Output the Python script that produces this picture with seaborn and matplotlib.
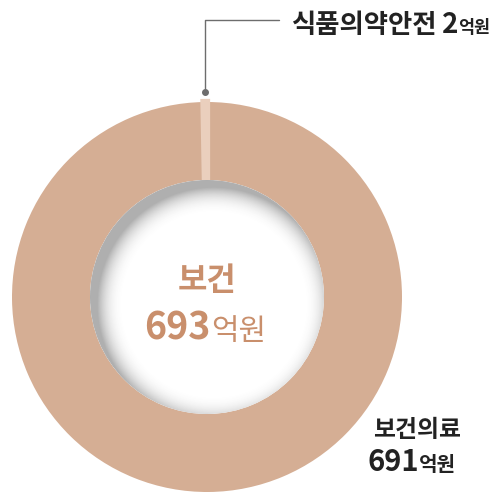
import numpy as np
import matplotlib
matplotlib.use("Agg")
import matplotlib.pyplot as plt
import seaborn as sns
from matplotlib.patches import Circle

# data
categories = ["식품의약안전", "보건의료"]
values = [2, 691]
total_label = "보건"
unit = "억원"

sns.set_theme(style="white")
plt.rcParams['font.family'] = ['Noto Sans CJK KR', 'DejaVu Sans']

W, H = 497, 494
main_color = "#d5ae94"
small_color = "#eacfbd"
center_color = "#c98f6c"
dark = "#222222"

fig = plt.figure(figsize=(W / 100, H / 100), dpi=100)
ax = fig.add_axes([0, 0, 1, 1])


def py(y):
    # image row -> data y
    return H - y


cx, cy = 207, py(297)
R_out, R_in = 195, 117

wedges, _ = ax.pie(values, colors=[small_color, main_color], startangle=90,
                   counterclock=True, center=(cx, cy), radius=R_out,
                   wedgeprops=dict(width=R_out - R_in, linewidth=0))
# small slice is drawn a bit wider, like the original
wedges[0].set_edgecolor(small_color)
wedges[0].set_linewidth(4.5)
wedges[0].set_zorder(2)
wedges[0].set_clip_path(Circle((cx, cy), R_out, transform=ax.transData))

ax.set_xlim(0, W)
ax.set_ylim(0, H)
ax.set_aspect("auto")
ax.axis("off")

ax.add_patch(Circle((cx, cy), R_in, facecolor="white", edgecolor="none", zorder=2.5))

# inner shadow of the hole
n = 400
xs = np.linspace(cx - R_in, cx + R_in, n)
ys = np.linspace(cy - R_in, cy + R_in, n)
X, Y = np.meshgrid(xs, ys)
d = np.hypot(X - (cx + 7), Y - (cy - 8))
w = 28
a = np.clip((d - (R_in - w)) / w, 0, 1) ** 2.5 * 0.45
img = np.zeros((n, n, 4))
img[..., :3] = 0.3
img[..., 3] = a
im = ax.imshow(img, extent=(cx - R_in, cx + R_in, cy - R_in, cy + R_in),
               origin="lower", zorder=3, interpolation="bilinear")
im.set_clip_path(Circle((cx, cy), R_in, transform=ax.transData))
ax.set_xlim(0, W)
ax.set_ylim(0, H)
ax.set_aspect("auto")

renderer = fig.canvas.get_renderer()


def number_with_unit(x_right, y, num, num_size, unit_size, color, unit_weight):
    t = ax.text(x_right, y, num, ha="right", va="baseline", fontsize=num_size,
                fontweight="bold", color=color, zorder=5)
    bb = t.get_window_extent(renderer=renderer)
    x0 = ax.transData.inverted().transform((bb.x1, 0))[0]
    ax.text(x0, y, unit, ha="left", va="baseline", fontsize=unit_size,
            fontweight=unit_weight, color=color, zorder=5)


# center labels
ax.text(cx, py(290), total_label, ha="center", va="baseline", fontsize=23,
        fontweight="bold", color=center_color, zorder=5)
number_with_unit(211, py(340), f"{sum(values)}", 27, 21.5, center_color, "normal")

# leader line for the small slice
ax.plot([205, 205, 279], [py(92), py(20), py(20)], color="#6d6d6d", lw=1, zorder=4)
ax.plot([205], [py(92)], marker="o", ms=4, color="#6d6d6d", zorder=4)

ax.text(291, py(33), categories[0], ha="left", va="baseline", fontsize=19,
        fontweight="bold", color=dark)
number_with_unit(458, py(33), f"{values[0]}", 20, 12.5, dark, "bold")

# bottom label
ax.text(373, py(437), categories[1], ha="left", va="baseline", fontsize=17.2,
        fontweight="bold", color=dark)
number_with_unit(419, py(471), f"{values[1]}", 21, 14.5, dark, "bold")

fig.savefig("out.png", dpi=100)
